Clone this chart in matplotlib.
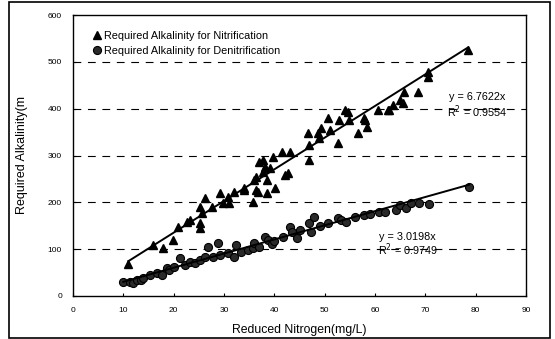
import matplotlib.pyplot as plt
from matplotlib.patches import Rectangle

# Nitrification: reduced nitrogen (mg/L) vs required alkalinity
nit_x = [11.0, 15.9, 17.9, 19.9, 20.9, 22.7, 23.3, 25.3, 25.3, 25.7, 25.3, 26.3,
         27.7, 29.3, 29.9, 30.7, 30.9, 31.9, 33.9, 33.9, 35.7, 36.3, 36.3, 36.7,
         36.9, 35.9, 37.8, 37.8, 38.2, 38.6, 38.6, 39.2, 39.8, 40.2, 41.6, 42.2,
         42.8, 43.2, 46.6, 46.8, 46.8, 48.6, 48.8, 49.2, 50.6, 51.0, 52.6, 52.8,
         54.6, 54.0, 54.8, 56.6, 57.8, 58.0, 58.5, 60.5, 62.5, 62.7, 63.5, 65.0,
         65.5, 65.7, 68.5, 70.5, 70.5, 78.5]
nit_y = [68, 109, 102, 120, 147, 158, 162, 145, 156, 177, 190, 209,
         190, 220, 199, 212, 199, 222, 226, 231, 201, 226, 254, 222,
         286, 248, 265, 290, 276, 248, 220, 273, 297, 231, 307, 258,
         262, 307, 348, 322, 290, 348, 337, 359, 380, 354, 327, 376,
         393, 397, 376, 348, 380, 376, 361, 397, 397, 397, 408, 418,
         412, 436, 436, 468, 478, 525]

# Denitrification
den_x = [10.0, 11.4, 12.0, 12.7, 13.5, 14.0, 15.3, 16.7, 17.7, 18.7, 19.0, 20.0,
         21.3, 22.3, 23.3, 24.3, 25.3, 26.3, 26.9, 27.9, 28.9, 29.3, 30.7, 31.9,
         32.3, 33.3, 34.7, 35.7, 35.9, 37.0, 38.2, 38.8, 39.5, 40.0, 41.8, 43.2,
         43.6, 44.6, 45.0, 46.8, 47.2, 47.8, 49.0, 50.6, 52.6, 53.2, 54.2, 56.0,
         57.8, 59.0, 60.8, 62.0, 64.1, 65.0, 66.1, 67.1, 68.7, 70.7, 78.7]
den_y = [30, 30, 28, 34, 35, 38, 45, 49, 45, 60, 55, 62,
         81, 66, 73, 70, 77, 83, 105, 83, 113, 88, 92, 83,
         109, 94, 98, 102, 113, 105, 126, 120, 110, 118, 126, 147,
         137, 124, 140, 156, 137, 169, 150, 156, 167, 162, 158, 168,
         173, 175, 180, 180, 184, 195, 188, 199, 199, 197, 233]

nit_slope, nit_r2 = 6.7622, 0.9554
den_slope, den_r2 = 3.0198, 0.9749

plt.rcParams['font.family'] = ['Liberation Sans', 'DejaVu Sans']

fig = plt.figure(figsize=(5.55, 3.39), dpi=100)
ax = fig.add_axes([73 / 555, 1 - 296 / 339, 453 / 555, 281 / 339])

# outer chart frame
fig.patches.append(Rectangle((9 / 555, 1.5 / 339), 541 / 555, 335.5 / 339,
                             transform=fig.transFigure, fill=False,
                             edgecolor='black', linewidth=1.2))

ax.plot(nit_x, nit_y, linestyle='none', marker='^', markersize=6,
        color='black', label='Required Alkalinity for Nitrification', zorder=3)
ax.plot(den_x, den_y, linestyle='none', marker='o', markersize=5.8,
        markerfacecolor='#2a2a2a', markeredgecolor='black', markeredgewidth=0.8,
        label='Required Alkalinity for Denitrification', zorder=3)

# trendlines through the origin
for xs, slope in [(nit_x, nit_slope), (den_x, den_slope)]:
    x0, x1 = min(xs), max(xs)
    ax.plot([x0, x1], [slope * x0, slope * x1], color='black', linewidth=1.4, zorder=4)

ax.text(80.3, 425, f'y = {nit_slope}x', fontsize=7.8, ha='center', va='center')
ax.text(80.3, 393, f'R$^2$ = {nit_r2}', fontsize=7.8, ha='center', va='center')
ax.text(66.5, 126, f'y = {den_slope}x', fontsize=7.8, ha='center', va='center')
ax.text(66.5, 98, f'R$^2$ = {den_r2}', fontsize=7.8, ha='center', va='center')

ax.set_xlim(0, 90)
ax.set_ylim(0, 600)
ax.set_xticks(range(0, 91, 10))
ax.set_yticks(range(0, 601, 100))
ax.tick_params(labelsize=6, length=2, width=0.8, direction='in', pad=8)
for y in range(100, 600, 100):
    ax.axhline(y, color='black', linestyle=(0, (7, 6)), linewidth=0.8, zorder=1)
for s in ax.spines.values():
    s.set_linewidth(1.0)

ax.set_xlabel('Reduced Nitrogen(mg/L)', fontsize=8.8)
ax.xaxis.set_label_coords(0.5, -0.1)
ax.set_ylabel('Required Alkalinity(m', fontsize=9)
ax.yaxis.set_label_coords(-0.1, 0.5)

ax.legend(loc='upper left', frameon=False, fontsize=7.8, handletextpad=0.15,
          handlelength=1.0, borderaxespad=0.3, labelspacing=0.45,
          bbox_to_anchor=(0.025, 0.97))

fig.savefig('out.png', dpi=100)
